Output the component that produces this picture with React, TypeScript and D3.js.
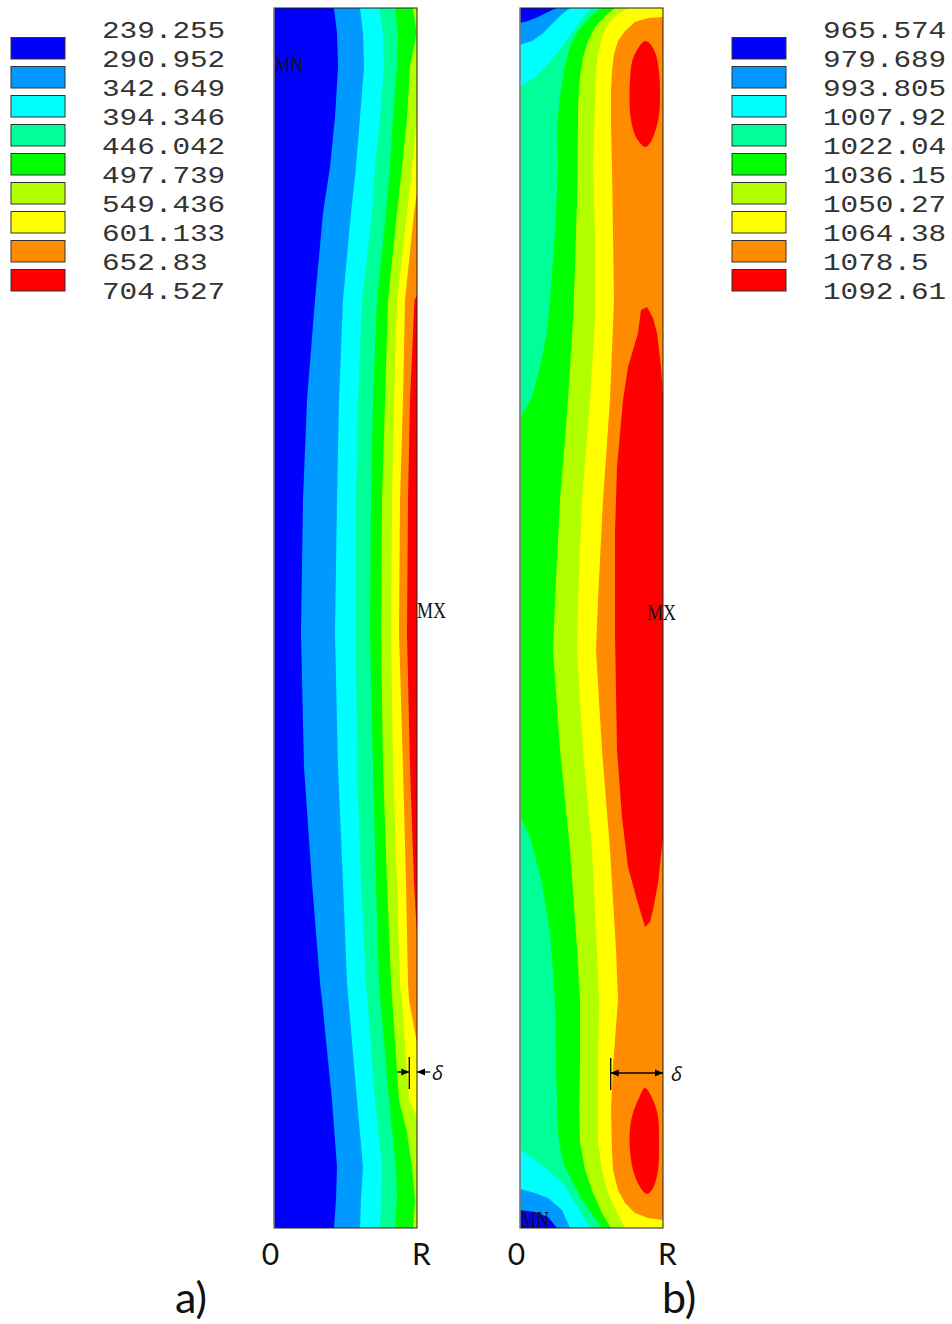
import React from "react";
import * as d3 from "d3";

// ---------- data ----------
const bandColors = ["#0000FF", "#0099FF", "#00FFFF", "#00FF99", "#00FF00", "#B2FF00", "#FFFF00", "#FF8C00", "#FF0000"];
const legendA = ["239.255", "290.952", "342.649", "394.346", "446.042", "497.739", "549.436", "601.133", "652.83", "704.527"];
const legendB = ["965.574", "979.689", "993.805", "1007.92", "1022.04", "1036.15", "1050.27", "1064.38", "1078.5", "1092.61"];

// geometry units: r from 0 (axis) to R = 143, z from 0 (top) to H = 1220
const R_MAX = 143;
const Z_MAX = 1220;

// panel a) contour boundaries [r, z]
const a1 = [[60,0],[63,25],[64,59],[61,109],[56,159],[49,205],[41,292],[33,392],[29,492],[27,625],[30,759],[38,875],[46,975],[48,992],[58,1092],[63,1159],[62,1192],[60,1220]];
const a2 = [[86,0],[89,25],[90,59],[86,109],[82,159],[77,205],[69,292],[65,392],[63,492],[61,625],[64,759],[69,875],[73,975],[83,1092],[89,1159],[87,1192],[86,1220]];
const a3 = [[105,0],[109,25],[110,59],[106,109],[101,159],[98,205],[88,292],[84,392],[82,492],[82,625],[83,759],[87,875],[92,975],[101,1092],[108,1159],[107,1192],[106,1220]];
const a4 = [[121,0],[124,25],[123,59],[119,109],[116,159],[112,205],[103,292],[99,392],[97,492],[96,625],[99,759],[102,875],[105,975],[115,1092],[122,1159],[123,1192],[121,1220]];
const a5 = [[139,0],[142.5,25],[136,59],[133,109],[128,159],[123,205],[114,292],[111,392],[108,492],[107,625],[109,759],[113,875],[117,975],[125,1092],[133,1125],[138,1159],[141,1192],[139,1220]];
const a6 = [[143,109],[138,159],[133,205],[123,292],[120,392],[118,492],[117,625],[119,759],[123,875],[126,975],[128,992],[135,1092],[143,1109]];
const a7 = [[143,185],[140,205],[131,292],[129,392],[126,492],[125,625],[129,759],[132,875],[134,975],[135,992],[143,1035]];
const a8 = [[143,287],[140.5,292],[136,392],[134,492],[133,625],[136,759],[140,875],[143,927]];

// panel b) contour boundaries [r, z]
const b1 = [[37,0],[28,4],[18,9],[8,13],[0,15],[0,1202],[15,1204],[28,1209],[37,1220]];
const b2 = [[50,0],[42,6],[32,16],[22,26],[12,33],[0,37],[0,1181],[15,1185],[28,1190],[42,1202],[50,1220]];
const b3 = [[72,0],[63,9],[53,23],[42,39],[28,56],[15,69],[5,76],[0,78],[0,1141],[12,1150],[28,1162],[44,1177],[56,1196],[70,1220]];
const b4 = [[80,0],[70,9],[58,23],[50,39],[44,63],[40,89],[37,116],[38,159],[35,225],[30,292],[27,325],[20,359],[12,389],[2,407],[0,410],[0,808],[2,812],[10,829],[22,875],[30,925],[35,992],[36,1059],[38,1125],[41,1145],[45,1159],[55,1179],[67,1199],[82,1220]];
const b5 = [[95,0],[85,8],[75,19],[68,33],[63,49],[60,69],[58,96],[58,116],[57,192],[55,259],[53,312],[48,392],[40,492],[35,592],[33,642],[40,742],[50,842],[57,942],[60,992],[60,1059],[59,1100],[60,1135],[65,1162],[73,1185],[82,1205],[91,1220]];
const b6 = [[108,0],[98,6],[88,16],[82,29],[78,46],[76,63],[75,96],[73,159],[75,225],[75,312],[70,392],[62,492],[58,592],[57,642],[63,742],[72,842],[77,942],[79,992],[78,1059],[78,1135],[82,1162],[88,1185],[97,1205],[105,1220]];
const b7 = [[143,9],[128,10],[115,14],[105,23],[98,33],[94,46],[92,63],[91,83],[91,116],[92,159],[93,225],[94,292],[90,392],[83,492],[78,592],[76,642],[82,742],[90,842],[96,942],[98,992],[93,1059],[91,1102],[92,1142],[93,1162],[98,1182],[105,1195],[115,1205],[128,1210],[143,1212]];
const b8Top = [[125,33],[117,42],[112,54],[110,72],[109.5,92],[111,112],[115,127],[120,135],[125,139],[130,135],[135,124],[139,107],[140,87],[139,64],[136,47],[131,37]];
const b8Mid = [[143,389],[141,359],[137,325],[133,310],[127,299],[121,302],[118,325],[108,359],[103,392],[97,459],[95,525],[95,625],[97,742],[102,809],[108,859],[117,892],[125,919],[130,914],[133,902],[138,875],[143,829]];
const b8Bot = [[125,1080],[119,1090],[113,1105],[110,1120],[110,1142],[113,1162],[120,1179],[127,1186],[133,1180],[138,1162],[139,1135],[138,1109],[133,1092]];

type Contour = { level: number; pts: number[][]; island?: boolean };

const panelAContours: Contour[] = [
  { level: 1, pts: a1 }, { level: 2, pts: a2 }, { level: 3, pts: a3 }, { level: 4, pts: a4 },
  { level: 5, pts: a5 }, { level: 6, pts: a6 }, { level: 7, pts: a7 }, { level: 8, pts: a8 },
];
const panelBContours: Contour[] = [
  { level: 1, pts: b1 }, { level: 2, pts: b2 }, { level: 3, pts: b3 }, { level: 4, pts: b4 },
  { level: 5, pts: b5 }, { level: 6, pts: b6 }, { level: 7, pts: b7 },
  { level: 8, pts: b8Top, island: true }, { level: 8, pts: b8Mid }, { level: 8, pts: b8Bot, island: true },
];

// annotation positions (model units)
const markA = { mn: [1, 64], mx: [143, 610], delta: [135.3, 143, 1064] };
const markB = { mn: [1, 1219], mx: [127, 612], delta: [90.7, 143, 1065] };

// ---------- layout ----------
const W = 952;
const H = 1324;
const panelTop = 8;
const panelAx = 274;
const panelBx = 520;
const panelW = 143;

function Panel({ x0, contours, marks, id, deltaBoth }: { x0: number; contours: Contour[]; marks: any; id: string; deltaBoth: boolean }) {
  const x = d3.scaleLinear().domain([0, R_MAX]).range([x0, x0 + panelW]);
  const y = d3.scaleLinear().domain([0, Z_MAX]).range([panelTop, panelTop + 1220]);
  const lin = d3.line<number[]>().x((d) => x(d[0])).y((d) => y(d[1])).curve(d3.curveLinear);
  const isl = d3.line<number[]>().x((d) => x(d[0])).y((d) => y(d[1])).curve(d3.curveCatmullRomClosed);

  const paths = contours.map((c, i) => {
    let d: string;
    if (c.island) {
      d = isl(c.pts) as string;
    } else {
      const first = c.pts[0];
      const last = c.pts[c.pts.length - 1];
      const closed = c.pts.concat([[R_MAX, last[1]], [R_MAX, first[1]]]);
      d = (lin(closed) as string) + "Z";
    }
    return <path key={i} d={d} fill={bandColors[c.level]} stroke="none" />;
  });

  const [dr0, dr1, dz] = marks.delta;
  const xl = x(dr0);
  const xr = x(dr1);
  const yd = y(dz);
  const head = (tipX: number, dir: number) =>
    `M${tipX},${yd} L${tipX - dir * 8},${yd - 3.5} L${tipX - dir * 8},${yd + 3.5} Z`;

  return (
    <g>
      <defs>
        <clipPath id={id}>
          <rect x={x(0)} y={y(0)} width={x(R_MAX) - x(0)} height={y(Z_MAX) - y(0)} />
        </clipPath>
      </defs>
      <g clipPath={`url(#${id})`}>
        <rect x={x(0)} y={y(0)} width={x(R_MAX) - x(0)} height={y(Z_MAX) - y(0)} fill={bandColors[0]} />
        {paths}
      </g>
      <rect x={x(0)} y={y(0)} width={x(R_MAX) - x(0)} height={y(Z_MAX) - y(0)} fill="none" stroke="#222" strokeWidth={1} />
      <line x1={x(0)} x2={x(0)} y1={y(0)} y2={y(Z_MAX)} stroke="#999" strokeWidth={1.2} />
      <text x={x(marks.mn[0])} y={y(marks.mn[1])} fontFamily="'Liberation Serif', serif" fontSize={24} textLength={28} lengthAdjust="spacingAndGlyphs" fill="#111">MN</text>
      <text x={x(marks.mx[0])} y={y(marks.mx[1])} fontFamily="'Liberation Serif', serif" fontSize={24} textLength={29} lengthAdjust="spacingAndGlyphs" fill="#111">MX</text>
      {/* delta annotation */}
      <line x1={xl} x2={xl} y1={yd - 15} y2={yd + 17} stroke="#000" strokeWidth={1.3} />
      {deltaBoth ? (
        <g>
          <line x1={xl} x2={xr} y1={yd} y2={yd} stroke="#000" strokeWidth={1.3} />
          <path d={head(xl, -1)} fill="#000" />
          <path d={head(xr, 1)} fill="#000" />
        </g>
      ) : (
        <g>
          <line x1={xl - 12} x2={xl} y1={yd} y2={yd} stroke="#000" strokeWidth={1.3} />
          <path d={head(xl, 1)} fill="#000" />
          <line x1={xr} x2={xr + 13} y1={yd} y2={yd} stroke="#000" strokeWidth={1.3} />
          <path d={head(xr, -1)} fill="#000" />
        </g>
      )}
      <text x={deltaBoth ? xr + 8 : xr + 15} y={yd + 8} fontFamily="'Open Sans', sans-serif" fontStyle="italic" fontSize={20} fill="#111">δ</text>
      {/* axis labels */}
      <text x={x(0) - 3.5} y={1265} textAnchor="middle" fontFamily="Lato, 'Open Sans', sans-serif" fontSize={30} fill="#111">0</text>
      <text x={x(R_MAX) + 4.5} y={1265} textAnchor="middle" fontFamily="Lato, 'Open Sans', sans-serif" fontSize={30} fill="#111">R</text>
    </g>
  );
}

function Legend({ x0, labels }: { x0: number; labels: string[] }) {
  const yl = d3.scaleLinear().domain([0, 1]).range([37, 66]);
  const charW = 17.6;
  return (
    <g>
      {bandColors.map((c, i) => (
        <rect key={i} x={x0} y={yl(i) + 0.5} width={54} height={21.5} fill={c} stroke="#333" strokeWidth={1} />
      ))}
      {labels.map((t, i) => (
        <text
          key={i}
          x={x0 + 91}
          y={yl(i) + 0.5}
          fontFamily="'Liberation Mono', monospace"
          fontSize={23}
          textLength={charW * t.length}
          lengthAdjust="spacingAndGlyphs"
          fill="#333"
        >
          {t}
        </text>
      ))}
    </g>
  );
}

export default function App() {
  return (
    <svg width={W} height={H} style={{ position: "absolute", left: 0, top: 0, background: "#fff" }}>
      <rect x={0} y={0} width={W} height={H} fill="#fff" />
      <Legend x0={11} labels={legendA} />
      <Legend x0={732} labels={legendB} />
      <Panel x0={panelAx} contours={panelAContours} marks={markA} id="clipA" deltaBoth={false} />
      <Panel x0={panelBx} contours={panelBContours} marks={markB} id="clipB" deltaBoth={true} />
      <text x={175} y={1313} fontFamily="Lato, 'Open Sans', sans-serif" fontSize={43} fill="#111">a)</text>
      <text x={662} y={1313} fontFamily="Lato, 'Open Sans', sans-serif" fontSize={43} fill="#111">b)</text>
    </svg>
  );
}
